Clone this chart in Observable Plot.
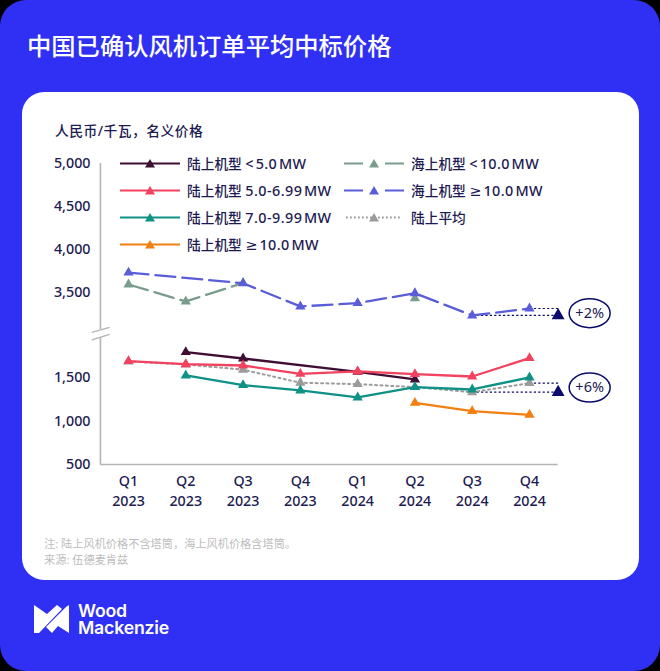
<!DOCTYPE html>
<html lang="zh">
<head>
<meta charset="utf-8">
<script src="https://cdn.jsdelivr.net/npm/d3@7"></script>
<script src="https://cdn.jsdelivr.net/npm/@observablehq/plot@0.6"></script>
<style>
html,body{margin:0;padding:0;background:#000;width:660px;height:671px;overflow:hidden}
body{font-family:"Noto Sans","Noto Sans CJK SC",sans-serif;color:#1d1b52;position:relative}
#bg{position:absolute;left:0;top:0;width:660px;height:671px;background:#3030f4;border-radius:26px}
#card{position:absolute;left:22px;top:92px;width:617px;height:488px;background:#fff;border-radius:22px}
#title{position:absolute;left:27px;top:28px;font-size:24.3px;line-height:36px;color:#fff;font-weight:500;white-space:nowrap}
#unit{position:absolute;left:55px;top:121px;font-size:13.8px;letter-spacing:.45px;line-height:20px;font-weight:500;white-space:nowrap}
#chart{position:absolute;left:0;top:0}
#note{position:absolute;left:44px;top:536px;font-size:11.2px;line-height:16px;color:#bdbdbd;white-space:nowrap}
.lg{position:absolute;height:20px;line-height:20px;font-size:13.7px;white-space:nowrap;font-weight:500}
.lg svg{position:absolute;left:0;top:0}
.lg span{position:absolute;left:67px;top:0}
.lg b{font:500 14.4px/20px "Noto Sans","DejaVu Sans",sans-serif;letter-spacing:.42px;word-spacing:-2.5px}
#logoText{position:absolute;left:78px;top:603px;font-family:Inter,"Noto Sans",sans-serif;font-weight:600;font-size:17.7px;letter-spacing:-.2px;line-height:16.5px;color:#fff}
#logo{position:absolute;left:0;top:0}
</style>
</head>
<body>
<div id="bg"></div>
<div id="card"></div>
<div id="title">中国已确认风机订单平均中标价格</div>
<div id="unit">人民币/千瓦，名义价格</div>
<div id="chart"></div>
<div id="legend"></div>
<div id="note">注: 陆上风机价格不含塔筒，海上风机价格含塔筒。<br>来源: 伍德麦肯兹</div>
<svg id="logo" width="660" height="671"><path fill="#fff" d="M34,605L47,614L57,605L62,609L39,633L34,633Z M69,605L69,633L58,626L52,633L46,627L66,607Z"/></svg>
<div id="logoText">Wood<br>Mackenzie</div>
<script>
const quarters = ["Q1\n2023","Q2\n2023","Q3\n2023","Q4\n2023","Q1\n2024","Q2\n2024","Q3\n2024","Q4\n2024"];
const yTicks = [500,1000,1500,3500,4000,4500,5000];

const onshoreUnder5  = [null,1797,1724,null,1570,1482,null,null];
const onshore5to7    = [1693,1658,1643,1547,1574,1543,1516,1728];
const onshore7to10   = [null,1528,1416,1355,1274,1393,1366,1505];
const onshoreOver10  = [null,null,null,null,null,1212,1116,1074];
const offshoreUnder10Line = [3593,3396,3610,null,null,null,null,null];
const offshoreUnder10Dots = [3593,3396,3610,null,null,3434,null,null];
const offshoreOver10 = [3732,null,3608,3338,3376,3492,3233,3314];
const onshoreAverage = [1690,1655,1594,1444,1428,1393,1335,1439];

const names = {
  a:["陆上机型 ","< 5.0 MW"], b:["陆上机型 ","5.0-6.99 MW"], c:["陆上机型 ","7.0-9.99 MW"], d:["陆上机型 ","≥ 10.0 MW"],
  e:["海上机型 ","< 10.0 MW"], f:["海上机型 ","≥ 10.0 MW"], g:["陆上平均",""]
};
const colors = {a:"#3e0f33",b:"#f2425f",c:"#0f9186",d:"#f27f12",e:"#7a9c8d",f:"#5a5dd8",g:"#9b9b9b"};
const navy = "#0b0b6b";
const axisGrey = "#b4b4b4";

const pts = arr => arr.map((v,i)=>({i,v})).filter(d=>d.v!=null);

const projectionX = 7.5;
const calloutX = 8.05;
const projections = [
  {from:6, v:3233},
  {from:7, v:3314},
  {from:6, v:1335},
  {from:7, v:1439}
];
const targets = [{v:3233,cv:3259,label:"+2%"},{v:1335,cv:1388,label:"+6%"}];

const ellipse = {draw(c){
  const rx=20.5, ry=14.5, kx=rx*0.5523, ky=ry*0.5523;
  c.moveTo(-rx,0);
  c.bezierCurveTo(-rx,-ky,-kx,-ry,0,-ry);
  c.bezierCurveTo(kx,-ry,rx,-ky,rx,0);
  c.bezierCurveTo(rx,ky,kx,ry,0,ry);
  c.bezierCurveTo(-kx,ry,-rx,ky,-rx,0);
  c.closePath();
}};

const seriesMarks = (arr,color,opts={},dots=arr,r=3.8) => [
  Plot.line(pts(arr),{x:"i",y:"v",stroke:color,strokeWidth:2.3,curve:"linear",...opts}),
  Plot.dot(pts(dots),{x:"i",y:"v",fill:color,stroke:"none",symbol:"triangle",r})
];

const plot = Plot.plot({
  width:660,height:671,
  marginLeft:100,marginRight:102,marginTop:163,marginBottom:207,
  style:{background:"transparent",fontFamily:'"Noto Sans","Noto Sans CJK SC",sans-serif',fontSize:"14.3px",color:"#1d1b52",overflow:"visible"},
  x:{type:"linear",domain:[0,7],range:[128,529]},
  y:{type:"linear",domain:[500,1800,3200,5000],range:[464,351.4,317.8,163]},
  marks:[
    Plot.ruleX([-0.49],{y1:5000,y2:2718,stroke:axisGrey,strokeWidth:1.6}),
    Plot.ruleX([-0.49],{y1:2403,y2:500,stroke:axisGrey,strokeWidth:1.6}),
    Plot.ruleY([500],{x1:-0.49,x2:7.5,stroke:axisGrey,strokeWidth:1.6}),
    Plot.link([{a:-0.64,b:2613,c:-0.33,d:2822},{a:-0.64,b:2299,c:-0.33,d:2529}],{x1:"a",y1:"b",x2:"c",y2:"d",stroke:axisGrey,strokeWidth:1.4}),
    Plot.axisY({ticks:yTicks,tickSize:0,tickPadding:10,tickFormat:d3.format(","),label:null,fontSize:14.3,fontWeight:500,fill:"#1d1b52"}),
    Plot.axisX({ticks:d3.range(8),tickSize:0,tickPadding:7,tickFormat:i=>quarters[i],label:null,lineHeight:1.4,fontSize:14.3,fontWeight:500,fill:"#1d1b52"}),
    Plot.link(projections,{x1:"from",y1:"v",x2:()=>projectionX,y2:"v",stroke:navy,strokeWidth:1.2,strokeDasharray:"2.2 2.2"}),
    ...seriesMarks(onshoreAverage,colors.g,{strokeDasharray:"2 3.4",strokeWidth:2}),
    ...seriesMarks(offshoreUnder10Line,colors.e,{strokeDasharray:"20 7"},offshoreUnder10Dots),
    ...seriesMarks(offshoreOver10,colors.f,{strokeDasharray:"20 7"}),
    ...seriesMarks(onshoreUnder5,colors.a),
    ...seriesMarks(onshore5to7,colors.b),
    ...seriesMarks(onshore7to10,colors.c),
    ...seriesMarks(onshoreOver10,colors.d),
    Plot.dot(targets,{x:()=>projectionX,y:"v",fill:navy,stroke:"none",symbol:"triangle",r:4.8}),
    Plot.dot(targets,{x:()=>calloutX,y:"cv",symbol:()=>ellipse,r:5,fill:"#fff",stroke:navy,strokeWidth:1.5}),
    Plot.text(targets,{x:()=>calloutX,y:"cv",text:"label",fill:"#1d1b52",fontSize:14.5})
  ]
});
document.getElementById("chart").append(plot);

/* legend */
const legendRows = [
  {k:"a",col:0,row:0},{k:"b",col:0,row:1},{k:"c",col:0,row:2},{k:"d",col:0,row:3},
  {k:"e",col:1,row:0},{k:"f",col:1,row:1},{k:"g",col:1,row:2}
];
const legendStyle = {e:"dash",f:"dash",g:"dot"};
const lg = document.getElementById("legend");
for(const r of legendRows){
  const left = r.col? 344:120, top = [154,181,208,235][r.row];
  const el = document.createElement("div");
  el.className="lg"; el.style.left=left+"px"; el.style.top=top+"px"; el.style.width="240px";
  const c = colors[r.k], s = legendStyle[r.k];
  let line;
  if(s==="dash") line=`<path d="M0,9.5H19M41,9.5H60" stroke="${c}" stroke-width="2.2"/>`;
  else if(s==="dot") line=`<path d="M2,9.5H58" stroke="${c}" stroke-width="1.8" stroke-dasharray="1.8 2.2"/>`;
  else line=`<path d="M0,9.5H60" stroke="${c}" stroke-width="2.2"/>`;
  el.innerHTML=`<svg width="60" height="20">${line}<path d="M30,5L35,13.5H25Z" fill="${c}"/></svg><span><i style="font-style:normal"></i><b></b></span>`;
  el.querySelector("i").textContent=names[r.k][0];
  el.querySelector("b").textContent=names[r.k][1];
  lg.append(el);
}
</script>
</body>
</html>
